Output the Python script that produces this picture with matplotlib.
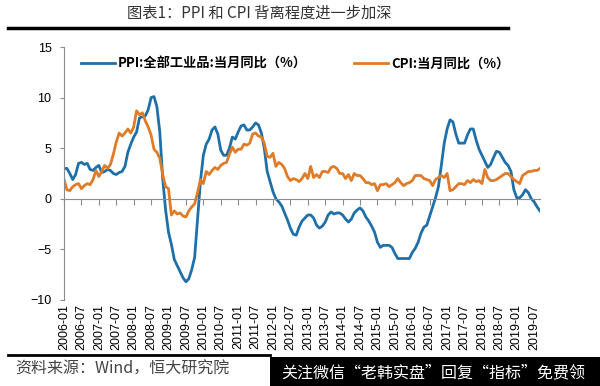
import numpy as np
import matplotlib.pyplot as plt
from matplotlib.patches import Rectangle
from matplotlib.lines import Line2D

plt.rcParams['font.family'] = ['Liberation Sans', 'Noto Sans CJK SC', 'DejaVu Sans']

# 月度数据 2006-01 至 2019-09
ppi = [3.0, 3.0, 2.5, 1.9, 2.4, 3.5, 3.6, 3.4, 3.5, 2.9, 2.8, 3.1,
       3.3, 2.6, 2.7, 2.9, 2.8, 2.5, 2.4, 2.6, 2.7, 3.2, 4.6, 5.4,
       6.1, 6.6, 8.0, 8.1, 8.2, 8.8, 10.0, 10.1, 9.1, 6.6, 2.0, -1.1,
       -3.3, -4.5, -6.0, -6.6, -7.2, -7.8, -8.2, -7.9, -7.0, -5.8, -2.1, 1.7,
       4.3, 5.4, 5.9, 6.8, 7.1, 6.4, 4.8, 4.3, 4.3, 5.0, 6.1, 5.9,
       6.6, 7.2, 7.3, 6.8, 6.8, 7.1, 7.5, 7.3, 6.5, 5.0, 2.7, 1.7,
       0.7, 0.0, -0.3, -0.7, -1.4, -2.1, -2.9, -3.5, -3.6, -2.8, -2.2, -1.9,
       -1.6, -1.6, -1.9, -2.6, -2.9, -2.7, -2.3, -1.6, -1.3, -1.5, -1.4, -1.4,
       -1.6, -2.0, -2.3, -2.0, -1.4, -1.1, -0.9, -1.2, -1.8, -2.2, -2.7, -3.3,
       -4.3, -4.8, -4.6, -4.6, -4.6, -4.8, -5.4, -5.9, -5.9, -5.9, -5.9, -5.9,
       -5.3, -4.9, -4.3, -3.4, -2.8, -2.6, -1.7, -0.8, 0.1, 1.2, 3.3, 5.5,
       6.9, 7.8, 7.6, 6.4, 5.5, 5.5, 5.5, 6.3, 6.9, 6.9, 5.8, 4.9,
       4.3, 3.7, 3.1, 3.4, 4.1, 4.7, 4.6, 4.1, 3.6, 3.3, 2.7, 0.9,
       0.1, 0.1, 0.4, 0.9, 0.6, 0.0, -0.3, -0.8, -1.2]

cpi = [1.9, 0.9, 0.8, 1.2, 1.4, 1.5, 1.0, 1.3, 1.5, 1.4, 1.9, 2.8,
       2.2, 2.7, 3.3, 3.0, 3.4, 4.4, 5.6, 6.5, 6.2, 6.5, 6.9, 6.5,
       7.1, 8.7, 8.3, 8.5, 7.7, 7.1, 6.3, 4.9, 4.6, 4.0, 2.4, 1.2,
       1.0, -1.6, -1.2, -1.5, -1.4, -1.7, -1.8, -1.2, -0.8, -0.5, 0.6, 1.9,
       1.5, 2.7, 2.4, 2.8, 3.1, 2.9, 3.3, 3.5, 3.6, 4.4, 5.1, 4.6,
       4.9, 4.9, 5.4, 5.3, 5.5, 6.4, 6.5, 6.2, 6.1, 5.5, 4.2, 4.1,
       4.5, 3.2, 3.6, 3.4, 3.0, 2.2, 1.8, 2.0, 1.9, 1.7, 2.0, 2.5,
       2.0, 3.2, 2.1, 2.4, 2.1, 2.7, 2.7, 2.6, 3.1, 3.2, 3.0, 2.5,
       2.5, 2.0, 2.4, 1.8, 2.5, 2.3, 2.3, 2.0, 1.6, 1.6, 1.4, 1.5,
       0.8, 1.4, 1.4, 1.5, 1.2, 1.4, 1.6, 2.0, 1.6, 1.3, 1.5, 1.6,
       1.8, 2.3, 2.3, 2.3, 2.0, 1.9, 1.8, 1.3, 1.9, 2.1, 2.3, 2.1,
       2.5, 0.8, 0.9, 1.2, 1.5, 1.5, 1.4, 1.8, 1.6, 1.9, 1.7, 1.8,
       1.5, 2.9, 2.1, 1.8, 1.8, 1.9, 2.1, 2.3, 2.5, 2.5, 2.2, 1.9,
       1.7, 1.5, 2.3, 2.5, 2.7, 2.7, 2.8, 2.8, 3.0]

years = list(range(2006, 2020))
tick_labels = [f'{y}-{m}' for y in years for m in ('01', '07')]

blue = '#1f6fa8'
orange = '#e07b28'
grey = '#8c8c8c'

x = np.arange(len(ppi))

fig = plt.figure(figsize=(6, 3.86), dpi=100)
ax = fig.add_axes([0.1067, 0.2228, 0.7933, 0.6554])

ax.plot(x, ppi, color=blue, lw=2.0)
ax.plot(x, cpi, color=orange, lw=2.0)

ax.set_xlim(0, len(ppi) - 1)
ax.set_ylim(-10, 15)
ax.set_yticks([-10, -5, 0, 5, 10, 15])
ax.tick_params(axis='y', labelsize=9, length=3, color=grey, pad=6)

for s in ['top', 'right']:
    ax.spines[s].set_visible(False)
ax.spines['left'].set_color(grey)
ax.spines['bottom'].set_position(('data', 0))
ax.spines['bottom'].set_color(grey)

ticks = np.arange(0, len(ppi), 6)
ax.set_xticks(ticks)
ax.tick_params(axis='x', labelbottom=False, length=4, color=grey, direction='out')

sec = ax.secondary_xaxis('bottom')
sec.set_xticks(ticks, tick_labels, rotation=90)
sec.tick_params(length=0, labelsize=9, pad=3)
sec.spines['bottom'].set_visible(False)

handles = [Line2D([], [], color=blue, lw=2.0), Line2D([], [], color=orange, lw=2.0)]
labels = ['PPI:全部工业品:当月同比（%）', 'CPI:当月同比（%）']
ax.legend(handles, labels, loc='upper left', bbox_to_anchor=(0.01, 1.01), ncol=2,
          frameon=False, handlelength=2.6, handletextpad=0.2, columnspacing=3.6,
          prop={'family': ['Noto Sans CJK SC'], 'weight': 'bold', 'size': 9.5})

# 标题与分隔线
fig.text(0.432, 0.965, '图表1：PPI 和 CPI 背离程度进一步加深', ha='center', va='center',
         fontsize=11, color='#333333', family=['Noto Sans CJK SC'])
fig.add_artist(Line2D([8 / 600, 508 / 600], [1 - 28 / 386] * 2, color='black', lw=2.5))

# 底部来源
fig.add_artist(Line2D([8 / 600, 270 / 600], [1 - 355 / 386] * 2, color='black', lw=2))
fig.text(15 / 600, 1 - 369 / 386, '资料来源：Wind，恒大研究院', ha='left', va='center',
         fontsize=11.5, color='#444444', style='italic', family=['Noto Sans CJK SC'])

fig.add_artist(Rectangle((270 / 600, 0), 330 / 600, 29 / 386, color='black', lw=0))
fig.text(433 / 600, 1 - 373 / 386, '关注微信“老韩实盘”回复“指标”免费领', ha='center', va='center',
         fontsize=11.5, color='white', family=['Noto Sans CJK SC'])

fig.savefig('out.png', dpi=100)
